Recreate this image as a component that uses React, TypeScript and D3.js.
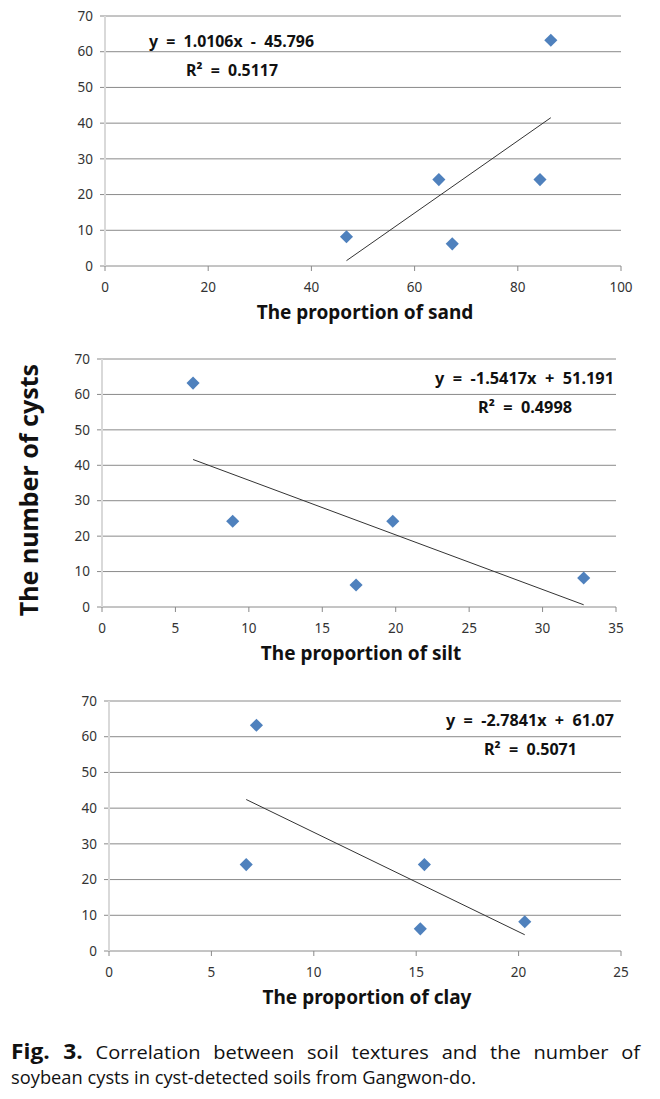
import React from 'react'
import * as d3 from 'd3'

// number of cysts per sample (same five soils in every panel)
const cysts = [8.2, 24.2, 6.2, 24.2, 63.2]
const sand = [46.8, 64.7, 67.3, 84.3, 86.4]
const silt = [32.8, 19.8, 17.3, 8.9, 6.2]
const clay = [20.3, 15.4, 15.2, 6.7, 7.2]

const slopes = [1.0106, -1.5417, -2.7841]
const intercepts = [-45.796, 51.191, 61.07]
const equations = ['y  =  1.0106x  -  45.796', 'y  =  -1.5417x  +  51.191', 'y  =  -2.7841x  +  61.07']
const rSquared = ['R²  =  0.5117', 'R²  =  0.4998', 'R²  =  0.5071']
const xTitles = ['The proportion of sand', 'The proportion of silt', 'The proportion of clay']
const xMaxes = [100, 35, 25]
const xSteps = [20, 5, 5]
const yTicks = [0, 10, 20, 30, 40, 50, 60, 70]

const seriesX = [sand, silt, clay]

// layout of each panel
const layout = [
  { l: 105, r: 621, t: 16, b: 266, eq: { x: 149, y: 47, w: 165 }, r2: { x: 186, y: 76, w: 92 } },
  { l: 102, r: 616, t: 359, b: 607, eq: { x: 435, y: 384, w: 179 }, r2: { x: 478, y: 413, w: 94 } },
  { l: 109, r: 621, t: 701, b: 951, eq: { x: 446, y: 726, w: 168 }, r2: { x: 484, y: 755, w: 93 } },
]

const tickFont = '"Noto Sans", "Open Sans", sans-serif'
const boldFont = '"Noto Sans", "Open Sans", sans-serif'
const captionFont = '"Open Sans", "Noto Sans", sans-serif'
const gridColor = '#8a8a8a'
const pointColor = '#4f81bd'

function Panel({ i }: { i: number }) {
  const box = layout[i]
  const xs = seriesX[i]
  const x = d3.scaleLinear().domain([0, xMaxes[i]]).range([box.l, box.r])
  const y = d3.scaleLinear().domain([0, 70]).range([box.b, box.t])
  const xTicks = d3.range(0, xMaxes[i] + 0.001, xSteps[i])
  const diamond = d3.symbol().type(d3.symbolSquare).size(86)()
  const lo = d3.min(xs) as number
  const hi = d3.max(xs) as number
  const fit = (v: number) => slopes[i] * v + intercepts[i]
  const line = d3.line<number>().x(d => x(d)).y(d => y(fit(d)))

  return (
    <g>
      {yTicks.map(t => (
        <g key={'g' + t}>
          <line x1={box.l - 5} x2={box.r} y1={y(t)} y2={y(t)} stroke={gridColor} strokeWidth={1} />
          <text x={box.l - 12} y={y(t)} dy="0.35em" textAnchor="end" fontFamily={tickFont} fontSize={13.5} fill="#333">{t}</text>
        </g>
      ))}
      <line x1={box.l} x2={box.l} y1={box.t} y2={box.b} stroke="#d9d9d9" strokeWidth={2} />
      {xTicks.map(t => (
        <g key={'x' + t}>
          <line x1={x(t)} x2={x(t)} y1={box.b} y2={box.b + 5} stroke={gridColor} strokeWidth={1} />
          <text x={x(t)} y={box.b + 21} dy="0.35em" textAnchor="middle" fontFamily={tickFont} fontSize={13.5} fill="#333">{t}</text>
        </g>
      ))}
      <path d={line([lo, hi]) || ''} stroke="#333" strokeWidth={1} fill="none" />
      {xs.map((v, k) => (
        <path key={'p' + k} d={diamond || ''} transform={`translate(${x(v)},${y(cysts[k])}) rotate(45)`} fill={pointColor} />
      ))}
      <text x={box.eq.x} y={box.eq.y} textLength={box.eq.w} lengthAdjust="spacingAndGlyphs" fontFamily={boldFont} fontWeight="bold" fontSize={16.5} fill="#111" style={{ whiteSpace: 'pre' }}>{equations[i]}</text>
      <text x={box.r2.x} y={box.r2.y} textLength={box.r2.w} lengthAdjust="spacingAndGlyphs" fontFamily={boldFont} fontWeight="bold" fontSize={16.5} fill="#111" style={{ whiteSpace: 'pre' }}>{rSquared[i]}</text>
      <text x={(box.l + box.r) / 2 + 2} y={box.b + 53} textAnchor="middle" fontFamily={boldFont} fontWeight="bold" fontSize={19} fill="#111">{xTitles[i]}</text>
    </g>
  )
}

export default function App() {
  return (
    <svg width={660} height={1099} style={{ position: 'absolute', left: 0, top: 0, background: '#fff' }}>
      <rect width={660} height={1099} fill="#fff" />
      {[0, 1, 2].map(i => <Panel key={i} i={i} />)}
      <text transform="translate(38,490) rotate(-90)" textAnchor="middle" fontFamily={boldFont} fontWeight="bold" fontSize={25} fill="#111">The number of cysts</text>
      <text x={11} y={1059} textLength={629} lengthAdjust="spacingAndGlyphs" fontFamily={captionFont} fontSize={18.5} fill="#111" style={{ wordSpacing: '7px' }}>
        <tspan fontWeight="bold" fontSize={21}>Fig. 3.</tspan> Correlation between soil textures and the number of
      </text>
      <text x={11} y={1084} textLength={465} lengthAdjust="spacingAndGlyphs" fontFamily={captionFont} fontSize={18.5} fill="#111">
        soybean cysts in cyst-detected soils from Gangwon-do.
      </text>
    </svg>
  )
}
